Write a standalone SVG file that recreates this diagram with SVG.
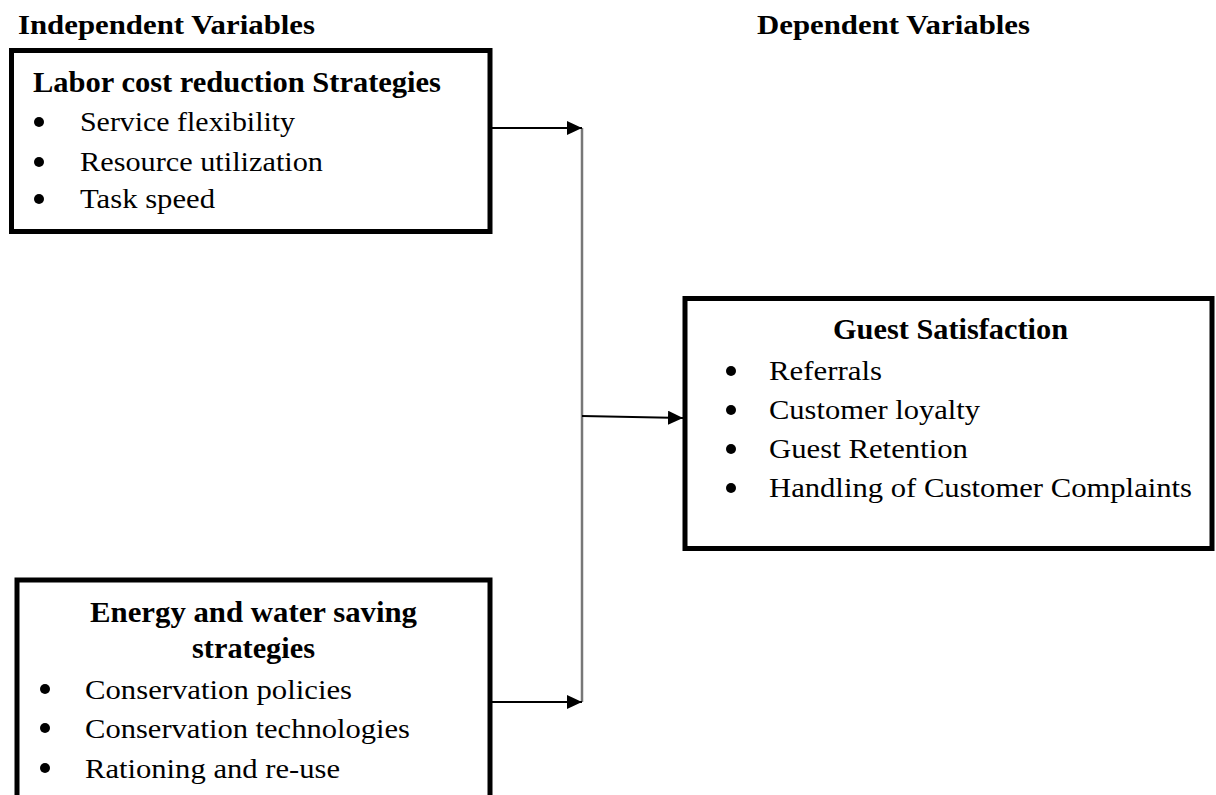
<svg xmlns="http://www.w3.org/2000/svg" width="1216" height="795" viewBox="0 0 1216 795">
  <style>
    .box { fill: #fff; stroke: #000; stroke-width: 5; }
    .head { font-family: "Liberation Serif", "Times New Roman", serif; font-weight: bold; font-size: 27px; fill: #000; }
    .title { font-family: "Liberation Serif", "Times New Roman", serif; font-weight: bold; font-size: 29px; fill: #000; }
    .item { font-family: "Liberation Serif", "Times New Roman", serif; font-size: 28px; fill: #000; }
    .link { stroke: #000; stroke-width: 2; fill: none; }
    .spine { stroke: #777; stroke-width: 2.5; fill: none; }
  </style>
  <defs>
    <marker id="arrow" viewBox="0 0 15 14" refX="15" refY="7" markerWidth="15" markerHeight="14" markerUnits="userSpaceOnUse" orient="auto">
      <path d="M0,0 L15,7 L0,14 z" fill="#000"/>
    </marker>
  </defs>
  <rect width="1216" height="795" fill="#fff"/>

  <text class="head" x="18" y="34" textLength="297" lengthAdjust="spacingAndGlyphs">Independent Variables</text>
  <text class="head" x="757" y="34" textLength="273" lengthAdjust="spacingAndGlyphs">Dependent Variables</text>

  <g id="connectors">
    <line class="spine" x1="582" y1="128" x2="582" y2="702"/>
    <line class="link" x1="492" y1="128" x2="582" y2="128" marker-end="url(#arrow)"/>
    <line class="link" x1="492" y1="702" x2="582" y2="702" marker-end="url(#arrow)"/>
    <line class="link" x1="582" y1="416" x2="683" y2="418" marker-end="url(#arrow)"/>
  </g>

  <g id="labor-cost">
    <rect class="box" x="11.5" y="50.5" width="478.5" height="181"/>
    <text class="title" x="33" y="92" textLength="408" lengthAdjust="spacingAndGlyphs">Labor cost reduction Strategies</text>
    <circle cx="39" cy="122" r="5"/>
    <circle cx="39" cy="162" r="5"/>
    <circle cx="39" cy="199" r="5"/>
    <text class="item" x="80" y="131" textLength="215" lengthAdjust="spacingAndGlyphs">Service flexibility</text>
    <text class="item" x="80" y="171" textLength="243" lengthAdjust="spacingAndGlyphs">Resource utilization</text>
    <text class="item" x="80" y="208" textLength="135" lengthAdjust="spacingAndGlyphs">Task speed</text>
  </g>

  <g id="energy-water">
    <rect class="box" x="17" y="580" width="473" height="260"/>
    <text class="title" x="90" y="622" textLength="327" lengthAdjust="spacingAndGlyphs">Energy and water saving</text>
    <text class="title" x="192" y="658" textLength="123" lengthAdjust="spacingAndGlyphs">strategies</text>
    <circle cx="45" cy="689" r="5"/>
    <circle cx="45" cy="728" r="5"/>
    <circle cx="45" cy="768" r="5"/>
    <text class="item" x="85" y="699" textLength="267" lengthAdjust="spacingAndGlyphs">Conservation policies</text>
    <text class="item" x="85" y="738" textLength="325" lengthAdjust="spacingAndGlyphs">Conservation technologies</text>
    <text class="item" x="85" y="778" textLength="255" lengthAdjust="spacingAndGlyphs">Rationing and re-use</text>
  </g>

  <g id="guest-satisfaction">
    <rect class="box" x="685" y="298.5" width="527" height="250"/>
    <text class="title" x="833" y="339" textLength="235" lengthAdjust="spacingAndGlyphs">Guest Satisfaction</text>
    <circle cx="731" cy="371" r="5"/>
    <circle cx="731" cy="410" r="5"/>
    <circle cx="731" cy="449" r="5"/>
    <circle cx="731" cy="488" r="5"/>
    <text class="item" x="769" y="380" textLength="113" lengthAdjust="spacingAndGlyphs">Referrals</text>
    <text class="item" x="769" y="419" textLength="211" lengthAdjust="spacingAndGlyphs">Customer loyalty</text>
    <text class="item" x="769" y="458" textLength="199" lengthAdjust="spacingAndGlyphs">Guest Retention</text>
    <text class="item" x="769" y="497" textLength="423" lengthAdjust="spacingAndGlyphs">Handling of Customer Complaints</text>
  </g>
</svg>
